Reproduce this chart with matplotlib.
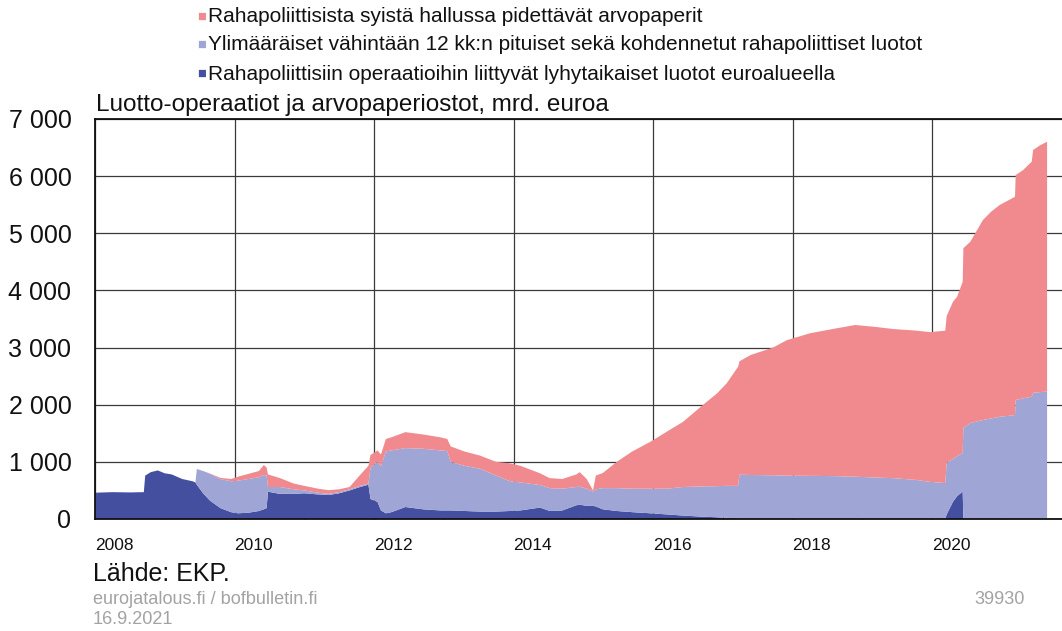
import matplotlib
matplotlib.use("Agg")
import matplotlib.pyplot as plt
from matplotlib.ticker import FixedLocator, FuncFormatter
import numpy as np

plt.rcParams['font.family'] = ['Liberation Sans', 'DejaVu Sans']

# ---- data (mrd. euroa), decimal years ----
t = [2008.00, 2008.25, 2008.50, 2008.70, 2008.72, 2008.80, 2008.90, 2009.00, 2009.10, 2009.25,
     2009.40, 2009.44, 2009.46, 2009.55, 2009.65, 2009.80, 2009.95, 2010.05, 2010.20, 2010.35,
     2010.42, 2010.46, 2010.48, 2010.65, 2010.85, 2011.00, 2011.20, 2011.35, 2011.50, 2011.65,
     2011.80, 2011.92, 2011.95, 2012.05, 2012.10, 2012.17, 2012.25, 2012.45, 2012.70, 2012.95,
     2013.05, 2013.10, 2013.30, 2013.52, 2013.75, 2013.95, 2014.10, 2014.38, 2014.52, 2014.70,
     2014.90, 2014.95, 2015.05, 2015.14, 2015.18, 2015.28, 2015.48, 2015.70, 2015.96, 2016.20,
     2016.43, 2016.72, 2016.92, 2017.06, 2017.22, 2017.24, 2017.40, 2017.72, 2017.92, 2018.25,
     2018.63, 2018.90, 2019.20, 2019.44, 2019.78, 2019.97, 2020.19, 2020.21, 2020.30, 2020.36,
     2020.44, 2020.45, 2020.55, 2020.73, 2020.85, 2020.97, 2021.10, 2021.19, 2021.20, 2021.30,
     2021.43, 2021.45, 2021.55, 2021.65]

short_loans = [460, 470, 465, 470, 760, 820, 850, 800, 780, 700,
               660, 640, 600, 450, 320, 190, 120, 100, 110, 140,
               170, 190, 478, 440, 440, 450, 430, 420, 450, 500,
               560, 600, 350, 300, 150, 100, 120, 210, 170, 150,
               150, 150, 140, 130, 130, 140, 150, 200, 140, 150,
               240, 250, 230, 230, 220, 170, 140, 120, 100, 80,
               60, 40, 30, 20, 10, 10, 0, 0, 0, 0,
               0, 0, 0, 0, 0, 0, 0, 80, 300, 400,
               480, 0, 0, 0, 0, 0, 0, 0, 0, 0,
               0, 0, 0, 0]

long_loans = [0, 0, 0, 0, 0, 0, 0, 0, 0, 0,
              0, 0, 275, 390, 470, 510, 540, 570, 590, 590,
              600, 570, 82, 120, 80, 50, 30, 20, 20, 20,
              20, 20, 550, 700, 770, 1080, 1080, 1030, 1060, 1050,
              1040, 850, 790, 750, 630, 520, 490, 395, 400, 380,
              320, 315, 300, 250, 300, 370, 400, 410, 430, 450,
              500, 530, 545, 560, 570, 765, 770, 765, 760, 755,
              750, 740, 725, 715, 683, 650, 630, 900, 750, 700,
              675, 1592, 1680, 1732, 1760, 1790, 1805, 1820, 2082, 2110,
              2140, 2210, 2220, 2230]

securities = [0, 0, 0, 0, 0, 0, 0, 0, 0, 0,
              0, 0, 0, 0, 5, 20, 40, 70, 90, 110,
              175, 140, 220, 157, 100, 80, 70, 65, 50, 40,
              190, 310, 220, 200, 210, 220, 230, 280, 250, 230,
              210, 270, 250, 230, 240, 315, 290, 205, 175, 170,
              220, 255, 170, 20, 240, 265, 460, 650, 820, 1000,
              1140, 1430, 1625, 1800, 2085, 1985, 2100, 2235, 2370, 2495,
              2587, 2655, 2635, 2610, 2613, 2620, 2666, 2570, 2750, 2790,
              2995, 3148, 3173, 3500, 3620, 3705, 3775, 3820, 3938, 3990,
              4113, 4248, 4320, 4373]

labels = ["Rahapoliittisista syistä hallussa pidettävät arvopaperit",
          "Ylimääräiset vähintään 12 kk:n pituiset sekä kohdennetut rahapoliittiset luotot",
          "Rahapoliittisiin operaatioihin liittyvät lyhytaikaiset luotot euroalueella"]
colors = ["#F08A8E", "#9FA5D4", "#444FA0"]

year_ticks = [2008, 2010, 2012, 2014, 2016, 2018, 2020]
y_ticks = [0, 1000, 2000, 3000, 4000, 5000, 6000, 7000]

# ---- figure ----
W, H = 1062, 631
fig = plt.figure(figsize=(W / 100, H / 100), dpi=100)
ax = fig.add_axes([95 / W, 1 - 519 / H, (W - 95) / W, 400 / H])

ax.stackplot(t, short_loans, long_loans, securities,
             colors=[colors[2], colors[1], colors[0]], linewidth=0, zorder=2)

ax.set_xlim(2008.0, 2008.0 + (W - 95) / 69.75)
ax.set_ylim(0, 7000)

ax.xaxis.set_major_locator(FixedLocator(year_ticks))
ax.xaxis.set_minor_locator(FixedLocator(list(range(2009, 2022, 2))))
ax.yaxis.set_major_locator(FixedLocator(y_ticks))
ax.yaxis.set_major_formatter(FuncFormatter(lambda v, p: f"{int(v):,}".replace(",", " ")))

ax.grid(True, which='major', color='#3a3a3a', linewidth=0.9, zorder=1)
ax.set_axisbelow(True)

ax.tick_params(axis='y', which='major', length=0, pad=17, labelsize=18, labelcolor='#111111')
ax.tick_params(axis='x', which='major', length=5, direction='in', pad=13.5, labelsize=12.5,
               labelcolor='#111111', color='#222222')
ax.tick_params(axis='x', which='minor', length=5, direction='in', color='#222222')
for lab in ax.get_xticklabels():
    lab.set_horizontalalignment('left')

for s in ['left', 'bottom', 'top']:
    ax.spines[s].set_color('#111111')
    ax.spines[s].set_linewidth(1.3)
    ax.spines[s].set_zorder(3)
ax.spines['right'].set_visible(False)

# ---- legend (manual) ----
leg_y = [17, 45, 74]
for lab, col, yy in zip(labels, colors, leg_y):
    fig.text(197 / W, 1 - yy / H, "■", color=col, fontsize=10.5, va='center', ha='left')
    fig.text(208 / W, 1 - yy / H, lab, color='#111111', fontsize=15, va='center', ha='left')

fig.text(96 / W, 1 - 105 / H, "Luotto-operaatiot ja arvopaperiostot, mrd. euroa",
         fontsize=17.5, color='#111111', va='center', ha='left')

fig.text(93 / W, 1 - 574 / H, "Lähde: EKP.", fontsize=18, color='#111111', va='center', ha='left')
fig.text(93 / W, 1 - 599 / H, "eurojatalous.fi / bofbulletin.fi", fontsize=13.1,
         color='#a3a3a3', va='center', ha='left')
fig.text(93 / W, 1 - 620 / H, "16.9.2021", fontsize=13.1, color='#a3a3a3', va='center', ha='left')
fig.text(1025 / W, 1 - 599 / H, "39930", fontsize=13.1, color='#a3a3a3', va='center', ha='right')

fig.savefig("out.png", dpi=100)
